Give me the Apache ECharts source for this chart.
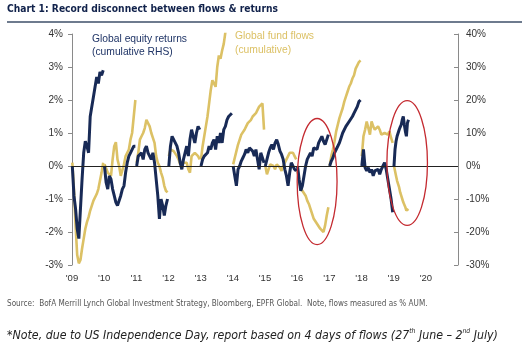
<!DOCTYPE html>
<html><head><meta charset="utf-8">
<script src="https://cdn.jsdelivr.net/npm/echarts@6/dist/echarts.min.js"></script>
<style>html,body{margin:0;padding:0;background:#fff;}#c{width:522px;height:355px;}</style>
</head><body><div id="c"></div>
<script>
// ---- data ----
const years = [2009, 2010, 2011, 2012, 2013, 2014, 2015, 2016, 2017, 2018, 2019];
const xTickLabels = ["'09", "'10", "'11", "'12", "'13", "'14", "'15", "'16", "'17", "'18", "'19", "'20"];
const lastYearCoverage = 0.45; // 2019 data runs to ~early July
// Global equity returns, cumulative within each year (% , right axis)
const equity2009 = [0, -9, -13, -19, -22, -13, -4, 4, 7.5, 6, 4, 15, 18, 21, 24, 27, 25, 28.5, 27.5, 29];
const equity2010 = [0, -5, -7, -3, -4, -7, -9, -11, -12, -12, -9, -7, -6, -2, 1, 3, 4, 4, 6, 6];
const equity2011 = [0, 3, 3, 4, 2, 5, 6, 4, 3, 2, 4, 1, -4, -9, -16, -10, -12, -15, -12, -10];
const equity2012 = [0, 6, 9, 8.5, 7, 6, 4, 1, -1, 2, 4, 6, 3, 8, 11, 9, 7, 10, 12, 11];
const equity2013 = [0, 2, 3, 2.6, 4, 6, 5, 7, 8, 5, 9, 7, 10, 7, 11, 12, 14, 15, 15.5, 16];
const equity2014 = [0, -3, -6, -1, 0, 1.5, 2.5, 3.5, 5, 4, 5.5, 6, 4.5, 3, 5, 2, -1, 4, 2.5, 1];
const equity2015 = [0, 2, 4, 5.5, 6.5, 5, 7, 8, 6.5, 4.5, 3.5, 2, -1, -3, -6, -2, 1, 1.5, -1, -1.5];
const equity2016 = [0, -4, -7.5, -6, -3, 0, 2, 2.5, 4, 3, 5.5, 6, 5, 7, 6.5, 9, 7.5, 6.5, 8, 9.5];
const equity2017 = [0, 1.5, 2.5, 4, 5, 5.5, 7, 8.5, 10, 10.5, 12, 12.5, 13.5, 13, 15, 16, 17, 18, 19.5, 20];
const equity2018 = [0, 5, -0.5, -1.5, -0.5, -2, -1, -3, -1.5, -2, -1, -2.5, -1, 0, 1, -1, -4, -7, -10, -14];
const equity2019 = [0, 5, 7.5, 9, 10, 11, 11.8, 12.5, 14, 15, 12.5, 10.5, 9, 13, 14];
// Global fund flows, cumulative within each year (% AUM, left axis)
const flows2009 = [0.1, -0.7, -1.8, -2.7, -2.95, -2.85, -2.5, -2.2, -1.9, -1.7, -1.55, -1.35, -1.2, -1.05, -1.1, -0.85, -0.7, -0.45, -0.2, 0.1];
const flows2010 = [0.05, 0.0, -0.2, -0.25, -0.3, 0.2, 0.6, 0.72, 0.2, 0.0, -0.3, -0.25, 0.05, 0.3, 0.3, 0.5, 0.8, 1.0, 1.5, 2.0];
const flows2011 = [0.1, 0.4, 0.8, 0.9, 1.0, 1.15, 1.4, 1.3, 1.2, 1.0, 0.85, 0.7, 0.3, 0.1, 0.0, -0.2, -0.35, -0.6, -0.75, -0.8];
const flows2012 = [0.3, 0.5, 0.55, 0.45, 0.4, 0.3, 0.2, 0.05, 0.0, 0.1, 0.05, 0.1, -0.1, -0.2, 0.3, 0.3, 0.4, 0.35, 0.3, 0.2];
const flows2013 = [0.2, 0.6, 0.9, 1.2, 1.5, 1.9, 2.3, 2.6, 2.5, 2.4, 3.0, 3.35, 3.25, 3.5, 3.7, 4.05, 4.3, 4.5, 4.6, 4.7];
const flows2014 = [0.05, 0.25, 0.45, 0.65, 0.8, 0.95, 1.0, 1.1, 1.2, 1.3, 1.25, 1.4, 1.5, 1.45, 1.6, 1.7, 1.8, 1.85, 1.9, 1.1];
const flows2015 = [0.0, -0.25, -0.3, 0.05, 0.1, 0.0, -0.1, 0.05, 0.1, -0.05, -0.15, 0.0, 0.1, 0.2, 0.3, 0.4, 0.35, 0.4, 0.3, 0.2];
const flows2016 = [-0.1, -0.5, -0.65, -0.75, -0.8, -0.9, -1.05, -1.15, -1.3, -1.45, -1.6, -1.65, -1.75, -1.8, -1.9, -1.95, -2.0, -1.8, -1.5, -1.25];
const flows2017 = [0.0, 0.3, 0.5, 0.75, 1.05, 1.25, 1.45, 1.6, 1.75, 1.95, 2.1, 2.25, 2.4, 2.5, 2.65, 2.75, 2.95, 3.05, 3.15, 3.2];
const flows2018 = [0.3, 0.9, 1.1, 1.35, 1.15, 0.95, 1.35, 1.2, 1.1, 1.05, 1.2, 1.1, 0.95, 1.0, 1.0, 1.05, 0.95, 1.05, 0.85, 0.7];
const flows2019 = [0, -0.15, -0.3, -0.45, -0.55, -0.65, -0.8, -0.9, -1.0, -1.1, -1.15, -1.25, -1.35, -1.4, -1.3];
// circled periods (data coords: year centre, value centre, half-width in years, half-height in % of left axis)
const circled = [[2016.62, -0.47, 0.62, 1.91], [2019.42, 0.09, 0.63, 1.89]];

const titleText = 'Chart 1: Record disconnect between flows & returns';
const equityLabel = ['Global equity returns', '(cumulative RHS)'];
const flowsLabel = ['Global fund flows', '(cumulative)'];
const sourceText = 'Source:  BofA Merrill Lynch Global Investment Strategy, Bloomberg, EPFR Global.  Note, flows measured as % AUM.';

// ---- build ----
const equitySegments = [equity2009, equity2010, equity2011, equity2012, equity2013, equity2014, equity2015, equity2016, equity2017, equity2018, equity2019];
const flowSegments = [flows2009, flows2010, flows2011, flows2012, flows2013, flows2014, flows2015, flows2016, flows2017, flows2018, flows2019];
function build(segs) {
  const pts = [];
  segs.forEach((vals, k) => {
    const y = years[k];
    const span = (k === segs.length - 1) ? lastYearCoverage : 0.96;
    const n = vals.length;
    vals.forEach((v, i) => pts.push([y + 0.01 + span * i / (n - 1), v]));
    pts.push([y + 0.995, '-']);
  });
  return pts;
}
const NAVY = '#182a56', GOLD = '#dcc165';
const ctx = document.createElement('canvas').getContext('2d');
const narrowFamily = "'Liberation Sans Narrow','DejaVu Sans Condensed',sans-serif";
ctx.font = 'bold 20px ' + narrowFamily;
const titleSize = 20 * 271 / ctx.measureText(titleText).width;
ctx.font = '20px ' + narrowFamily;
const srcSize = 20 * 421 / ctx.measureText(sourceText).width;
ctx.font = 'italic 20px ' + narrowFamily;
const noteSize = 20 * 503 / ctx.measureText('*Note, due to US Independence Day, report based on 4 days of flows (27th June – 2nd July)').width;

const chart = echarts.init(document.getElementById('c'), null, {renderer: 'canvas'});
const axisLbl = {fontFamily: 'Liberation Sans, Arial, sans-serif', fontSize: 10, color: '#333'};
chart.setOption({
  animation: false,
  grid: {left: 72, right: 64, top: 34, bottom: 90, containLabel: false},
  xAxis: {type: 'value', min: 2009, max: 2021, interval: 1,
    axisLine: {show: false}, axisTick: {show: false}, splitLine: {show: false},
    axisLabel: Object.assign({}, axisLbl, {fontSize: 9.5, margin: 8, showMaxLabel: true,
      formatter: v => xTickLabels[Math.round(v) - 2009] || ''})},
  yAxis: [
    {type: 'value', min: -3, max: 4, interval: 1, position: 'left',
      axisLine: {show: true, onZero: false, lineStyle: {color: '#8a8a8a', width: 1}},
      axisTick: {show: true, length: 4, lineStyle: {color: '#8a8a8a'}},
      splitLine: {show: false},
      axisLabel: Object.assign({}, axisLbl, {margin: 9, formatter: v => v + '%'})},
    {type: 'value', min: -30, max: 40, interval: 10, position: 'right',
      axisLine: {show: true, onZero: false, lineStyle: {color: '#8a8a8a', width: 1}},
      axisTick: {show: true, inside: true, length: 4, lineStyle: {color: '#8a8a8a'}},
      splitLine: {show: false},
      axisLabel: Object.assign({}, axisLbl, {margin: 8, formatter: v => v + '%'})}
  ],
  series: [
    {name: 'Global fund flows', type: 'line', yAxisIndex: 0, data: build(flowSegments), showSymbol: false, symbol: 'none',
      connectNulls: false, clip: true, lineStyle: {color: GOLD, width: 2.6}, z: 2,
      markLine: {silent: true, symbol: 'none', label: {show: false}, lineStyle: {color: '#222', width: 1, type: 'solid'},
        data: [{yAxis: 0}], animation: false}},
    {name: 'Global equity returns', type: 'line', yAxisIndex: 1, data: build(equitySegments), showSymbol: false, symbol: 'none',
      connectNulls: false, clip: true, lineStyle: {color: NAVY, width: 3}, z: 3}
  ]
});

const ellipses = circled.map((c, i) => {
  const p = chart.convertToPixel({xAxisIndex: 0, yAxisIndex: 0}, [c[0], c[1]]);
  const q = chart.convertToPixel({xAxisIndex: 0, yAxisIndex: 0}, [c[0] + c[2], c[1] + c[3]]);
  return {type: 'ellipse', id: 'el' + i, z: 100, silent: true,
    shape: {cx: p[0], cy: p[1], rx: Math.abs(q[0] - p[0]), ry: Math.abs(q[1] - p[1])},
    style: {fill: 'none', stroke: '#c42a30', lineWidth: 1.3}};
});
const annFont = 'Liberation Sans, Arial, sans-serif';
chart.setOption({graphic: [
  {type: 'text', id: 'title', left: 7, top: 4, z: 100,
    style: {text: titleText, font: 'bold ' + titleSize.toFixed(2) + 'px ' + narrowFamily, fill: '#11224b'}},
  {type: 'rect', id: 'rule', z: 100, shape: {x: 7, y: 21, width: 515, height: 2}, style: {fill: '#6e7b8e'}},
  {type: 'text', id: 'eq1', left: 92, top: 34, z: 100, style: {text: equityLabel[0], font: '10.3px ' + annFont, fill: '#1f3466'}},
  {type: 'text', id: 'eq2', left: 92, top: 47.5, z: 100, style: {text: equityLabel[1], font: '10.3px ' + annFont, fill: '#1f3466'}},
  {type: 'text', id: 'fl1', left: 235, top: 31, z: 100, style: {text: flowsLabel[0], font: '10.3px ' + annFont, fill: GOLD}},
  {type: 'text', id: 'fl2', left: 235, top: 45, z: 100, style: {text: flowsLabel[1], font: '10.3px ' + annFont, fill: GOLD}},
  {type: 'text', id: 'src', left: 7, top: 300, z: 100,
    style: {text: sourceText, font: srcSize.toFixed(2) + 'px ' + narrowFamily, fill: '#555'}},
  {type: 'text', id: 'note', left: 7, top: 328, z: 100,
    style: {text: '{a|*Note, due to US Independence Day, report based on 4 days of flows (27}{s|th}{a| June – 2}{s|nd}{a| July)}',
      rich: {a: {fontFamily: narrowFamily, fontStyle: 'italic', fontSize: noteSize, fill: '#222', lineHeight: noteSize * 1.2},
             s: {fontFamily: narrowFamily, fontStyle: 'italic', fontSize: noteSize * 0.55, fill: '#222', verticalAlign: 'top', lineHeight: noteSize * 1.2}}}}
].concat(ellipses)});
</script></body></html>
